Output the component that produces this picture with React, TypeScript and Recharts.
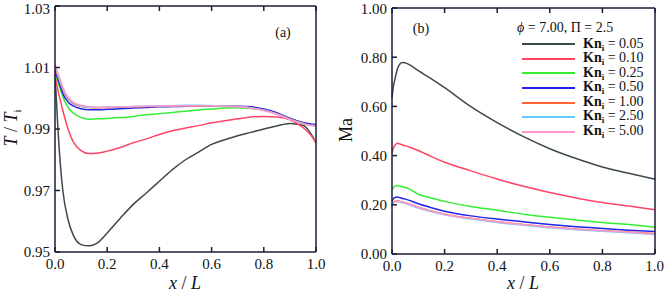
import { LineChart, Line, XAxis, YAxis } from 'recharts';

// panel (a): temperature ratio along the channel
const xA = [0, 0.01, 0.02, 0.03, 0.05, 0.07, 0.1, 0.13, 0.16, 0.2, 0.25, 0.3, 0.35, 0.4, 0.45, 0.5, 0.55, 0.6, 0.65, 0.7, 0.75, 0.8, 0.85, 0.9, 0.95, 0.98, 1.0];
const tKn005 = [1.008, 0.992, 0.979, 0.97, 0.9605, 0.9555, 0.9524, 0.952, 0.9528, 0.9562, 0.961, 0.9655, 0.9692, 0.973, 0.9768, 0.98, 0.9825, 0.985, 0.9865, 0.9878, 0.9889, 0.99, 0.991, 0.9918, 0.9912, 0.9885, 0.9855];
const tKn010 = [1.008, 1.003, 0.9995, 0.996, 0.99, 0.9858, 0.983, 0.982, 0.9821, 0.9828, 0.984, 0.9855, 0.9868, 0.9882, 0.9894, 0.9903, 0.9911, 0.992, 0.9927, 0.9933, 0.9939, 0.9941, 0.9939, 0.993, 0.9905, 0.988, 0.9855];
const tKn025 = [1.007, 1.0055, 1.003, 1.0005, 0.997, 0.9952, 0.9937, 0.9932, 0.9933, 0.9934, 0.9937, 0.9941, 0.9946, 0.995, 0.9954, 0.9958, 0.9962, 0.9965, 0.9968, 0.9969, 0.9967, 0.9962, 0.995, 0.9935, 0.992, 0.9914, 0.9912];
const tKn050 = [1.009, 1.0065, 1.004, 1.0015, 0.9988, 0.9975, 0.9966, 0.9963, 0.9963, 0.9964, 0.9966, 0.9968, 0.997, 0.9972, 0.9973, 0.9974, 0.9975, 0.9975, 0.9975, 0.9974, 0.9972, 0.9965, 0.9953, 0.9935, 0.9921, 0.9916, 0.9914];
const tKn100 = [1.01, 1.0075, 1.005, 1.0028, 0.9998, 0.9983, 0.9974, 0.997, 0.9969, 0.997, 0.9971, 0.9972, 0.9973, 0.9974, 0.9975, 0.9976, 0.9976, 0.9976, 0.9975, 0.9973, 0.9969, 0.9962, 0.995, 0.9933, 0.9919, 0.9913, 0.9911];
const tKn250 = [1.0105, 1.008, 1.0055, 1.0032, 1.0001, 0.9985, 0.9975, 0.9971, 0.997, 0.9971, 0.9972, 0.9973, 0.9974, 0.9975, 0.9976, 0.9977, 0.9977, 0.9976, 0.9975, 0.9973, 0.9969, 0.9961, 0.9949, 0.9932, 0.9918, 0.9912, 0.991];
const tKn500 = [1.011, 1.0085, 1.006, 1.0036, 1.0004, 0.9987, 0.9977, 0.9972, 0.9971, 0.9971, 0.9972, 0.9973, 0.9974, 0.9975, 0.9976, 0.9976, 0.9976, 0.9976, 0.9974, 0.9972, 0.9968, 0.996, 0.9948, 0.9931, 0.9917, 0.9911, 0.9909];

// panel (b): Mach number along the channel
const xB = [0, 0.005, 0.01, 0.02, 0.03, 0.04, 0.06, 0.1, 0.15, 0.2, 0.3, 0.4, 0.5, 0.6, 0.7, 0.8, 0.9, 1.0];
const maKn005 = [0.635, 0.68, 0.705, 0.75, 0.772, 0.778, 0.773, 0.745, 0.712, 0.676, 0.599, 0.534, 0.477, 0.428, 0.388, 0.354, 0.328, 0.304];
const maKn010 = [0.41, 0.43, 0.44, 0.45, 0.447, 0.443, 0.437, 0.421, 0.396, 0.373, 0.338, 0.305, 0.275, 0.25, 0.228, 0.209, 0.195, 0.18];
const maKn025 = [0.262, 0.27, 0.276, 0.278, 0.276, 0.273, 0.267, 0.243, 0.228, 0.214, 0.193, 0.178, 0.162, 0.149, 0.138, 0.128, 0.12, 0.109];
const maKn050 = [0.215, 0.224, 0.229, 0.232, 0.229, 0.226, 0.22, 0.204, 0.188, 0.174, 0.155, 0.142, 0.131, 0.12, 0.111, 0.104, 0.097, 0.091];
const maKn100 = [0.2, 0.209, 0.214, 0.216, 0.214, 0.211, 0.205, 0.19, 0.175, 0.162, 0.145, 0.131, 0.12, 0.11, 0.102, 0.095, 0.089, 0.083];
const maKn250 = [0.197, 0.206, 0.211, 0.213, 0.211, 0.208, 0.202, 0.187, 0.172, 0.159, 0.142, 0.128, 0.117, 0.107, 0.099, 0.092, 0.086, 0.079];
const maKn500 = [0.199, 0.208, 0.213, 0.215, 0.213, 0.21, 0.204, 0.189, 0.174, 0.161, 0.144, 0.13, 0.119, 0.109, 0.101, 0.094, 0.088, 0.081];

const knLabels = ['0.05', '0.10', '0.25', '0.50', '1.00', '2.50', '5.00'];
const colors = ['#3d4a45', '#ff4466', '#33ee33', '#2222ee', '#ff6633', '#66ccff', '#ff99cc'];
const xTicks = [0, 0.2, 0.4, 0.6, 0.8, 1.0];
const tTicks = [0.95, 0.97, 0.99, 1.01, 1.03];
const maTicks = [0, 0.2, 0.4, 0.6, 0.8, 1.0];

const seriesA = [tKn005, tKn010, tKn025, tKn050, tKn100, tKn250, tKn500];
const seriesB = [maKn005, maKn010, maKn025, maKn050, maKn100, maKn250, maKn500];

const dataA = xA.map((x, i) => {
  const row: Record<string, number> = { x };
  seriesA.forEach((s, k) => (row['k' + k] = s[i]));
  return row;
});
const dataB = xB.map((x, i) => {
  const row: Record<string, number> = { x };
  seriesB.forEach((s, k) => (row['k' + k] = s[i]));
  return row;
});

const serif = '"Liberation Serif", "Times New Roman", Times, serif';
const frame = '#1c1c38';
const tickFont = { fill: '#111', fontSize: 15, fontFamily: serif };
const blank = () => '';

function KnLegend() {
  return (
    <div style={{ position: 'absolute', left: 517, top: 21, fontFamily: serif, fontSize: 14, color: '#111', lineHeight: '14.6px' }}>
      <div style={{ height: 16 }}>
        <i>ϕ</i> = 7.00, Π = 2.5
      </div>
      {colors.map((c, i) => (
        <div key={i} style={{ display: 'flex', alignItems: 'center', height: 14.6 }}>
          <span style={{ display: 'inline-block', width: 53, height: 0, borderTop: `2px solid ${c}`, marginLeft: 5, marginRight: 8 }} />
          <span style={{ whiteSpace: 'nowrap' }}>
            <b>Kn</b>
            <b style={{ fontSize: 9, position: 'relative', top: 3 }}>i</b> = {knLabels[i]}
          </span>
        </div>
      ))}
    </div>
  );
}

export default function App() {
  const axisLine = { stroke: frame, strokeWidth: 1.5 };
  const tickLine = { stroke: frame, strokeWidth: 1.5 };
  return (
    <div style={{ position: 'absolute', left: 0, top: 0, width: 664, height: 291, fontFamily: serif, background: '#fff', color: '#111' }}>
      <div style={{ position: 'absolute', left: 0, top: 0 }}>
        <LineChart width={330} height={291} data={dataA} margin={{ top: 5, right: 13, bottom: 0, left: 0 }}>
          <XAxis dataKey="x" type="number" domain={[0, 1]} ticks={xTicks} tickFormatter={(v: number) => v.toFixed(1)}
            height={39} tickSize={-5} tickMargin={11} axisLine={axisLine} tickLine={tickLine} tick={tickFont} />
          <XAxis xAxisId="top" dataKey="x" type="number" orientation="top" domain={[0, 1]} ticks={xTicks} tickFormatter={blank}
            height={1} tickSize={-5} tickMargin={0} axisLine={axisLine} tickLine={tickLine} />
          <YAxis type="number" domain={[0.95, 1.03]} ticks={tTicks} tickFormatter={(v: number) => v.toFixed(2)}
            width={55} tickSize={-5} tickMargin={10} axisLine={axisLine} tickLine={tickLine} tick={tickFont} allowDataOverflow />
          <YAxis yAxisId="right" orientation="right" type="number" domain={[0.95, 1.03]} ticks={tTicks} tickFormatter={blank}
            width={1} tickSize={-5} tickMargin={0} axisLine={axisLine} tickLine={tickLine} />
          {colors.map((c, k) => (
            <Line key={k} type="monotone" dataKey={'k' + k} stroke={c} strokeWidth={1.5} dot={false} isAnimationActive={false} />
          ))}
        </LineChart>
      </div>
      <div style={{ position: 'absolute', left: 330, top: 0 }}>
        <LineChart width={334} height={291} data={dataB} margin={{ top: 7, right: 8, bottom: 0, left: 0 }}>
          <XAxis dataKey="x" type="number" domain={[0, 1]} ticks={xTicks} tickFormatter={(v: number) => v.toFixed(1)}
            height={37} tickSize={-5} tickMargin={11} axisLine={axisLine} tickLine={tickLine} tick={tickFont} />
          <XAxis xAxisId="top" dataKey="x" type="number" orientation="top" domain={[0, 1]} ticks={xTicks} tickFormatter={blank}
            height={1} tickSize={-5} tickMargin={0} axisLine={axisLine} tickLine={tickLine} />
          <YAxis type="number" domain={[0, 1]} ticks={maTicks} tickFormatter={(v: number) => v.toFixed(2)}
            width={62} tickSize={-5} tickMargin={10} axisLine={axisLine} tickLine={tickLine} tick={tickFont} />
          <YAxis yAxisId="right" orientation="right" type="number" domain={[0, 1]} ticks={maTicks} tickFormatter={blank}
            width={1} tickSize={-5} tickMargin={0} axisLine={axisLine} tickLine={tickLine} />
          {colors.map((c, k) => (
            <Line key={k} type="monotone" dataKey={'k' + k} stroke={c} strokeWidth={1.5} dot={false} isAnimationActive={false} />
          ))}
        </LineChart>
      </div>
      <KnLegend />
      {/* axis titles and panel tags */}
      <div style={{ position: 'absolute', left: 185, top: 283, transform: 'translate(-50%,-50%)', fontSize: 18, whiteSpace: 'nowrap' }}>
        <i>x</i> / <i>L</i>
      </div>
      <div style={{ position: 'absolute', left: 523, top: 283, transform: 'translate(-50%,-50%)', fontSize: 18, whiteSpace: 'nowrap' }}>
        <i>x</i> / <i>L</i>
      </div>
      <div style={{ position: 'absolute', left: 11, top: 128, transform: 'translate(-50%,-50%) rotate(-90deg)', fontSize: 18, whiteSpace: 'nowrap' }}>
        <i>T</i> / <i>T</i><span style={{ fontSize: 11, position: 'relative', top: 4 }}>i</span>
      </div>
      <div style={{ position: 'absolute', left: 346, top: 130, transform: 'translate(-50%,-50%) rotate(-90deg)', fontSize: 18, whiteSpace: 'nowrap' }}>
        Ma
      </div>
      <div style={{ position: 'absolute', left: 283, top: 33, transform: 'translate(-50%,-50%)', fontSize: 14 }}>(a)</div>
      <div style={{ position: 'absolute', left: 421, top: 29, transform: 'translate(-50%,-50%)', fontSize: 14 }}>(b)</div>
    </div>
  );
}
